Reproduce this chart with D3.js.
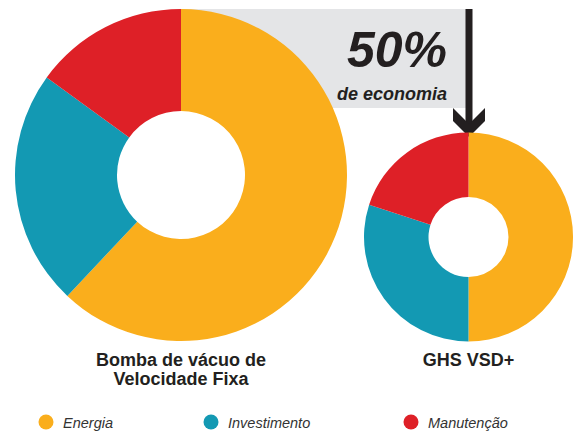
<!DOCTYPE html>
<html>
<head>
<meta charset="utf-8">
<script src="https://cdn.jsdelivr.net/npm/d3@7"></script>
<style>
body { margin: 0; background: #fff; }
text { font-family: Arial, "Liberation Sans", sans-serif; }
</style>
</head>
<body>
<script>
var w = 581;
var h = 432;

var categories = ["Energia", "Investimento", "Manutenção"];
var fixedValues = [62, 23, 15];   // Bomba de vácuo de Velocidade Fixa
var vsdValues = [50, 30, 20];     // GHS VSD+
var chartTitles = [["Bomba de vácuo de", "Velocidade Fixa"], ["GHS VSD+"]];
var savingLabel = ["50%", "de economia"];

var colors = d3.scaleOrdinal()
    .domain(categories)
    .range(["#faae1c", "#1399b3", "#de2027"]);

var svg = d3.select("body").append("svg").attr("width", w).attr("height", h);

// grey band + arrow behind the donuts
svg.append("rect")
    .attr("x", 181).attr("y", 9)
    .attr("width", 285).attr("height", 99)
    .attr("fill", "#e4e5e7");

svg.append("rect")
    .attr("x", 465.5).attr("y", 9)
    .attr("width", 7).attr("height", 118)
    .attr("fill", "#231f20");

svg.append("path")
    .attr("d", "M453,108 L469,124 L485,108 L485,121 L469,137 L453,121 Z")
    .attr("fill", "#231f20");

svg.append("text")
    .attr("x", 447).attr("y", 67)
    .attr("text-anchor", "end")
    .attr("font-size", "50px")
    .attr("font-weight", "bold")
    .attr("font-style", "italic")
    .attr("fill", "#231f20")
    .text(savingLabel[0]);

svg.append("text")
    .attr("x", 447).attr("y", 100)
    .attr("text-anchor", "end")
    .attr("font-size", "18px")
    .attr("font-weight", "bold")
    .attr("font-style", "italic")
    .attr("fill", "#231f20")
    .text(savingLabel[1]);

var pie = d3.pie().sort(null);

var donuts = [
    { values: fixedValues, cx: 181, cy: 175, outer: 166, inner: 64, title: chartTitles[0] },
    { values: vsdValues, cx: 468.5, cy: 237, outer: 104.5, inner: 40, title: chartTitles[1] }
];

donuts.forEach(function (d) {
    var arc = d3.arc().innerRadius(d.inner).outerRadius(d.outer);
    var g = svg.append("g").attr("transform", "translate(" + d.cx + "," + d.cy + ")");
    g.selectAll("path")
        .data(pie(d.values))
        .enter()
        .append("path")
        .attr("d", arc)
        .attr("fill", function (s, i) { return colors(categories[i]); });

    svg.append("text")
        .attr("x", d.cx).attr("y", 366)
        .attr("text-anchor", "middle")
        .attr("font-size", "18px")
        .attr("font-weight", "bold")
        .attr("fill", "#231f20")
        .selectAll("tspan")
        .data(d.title)
        .enter()
        .append("tspan")
        .attr("x", d.cx)
        .attr("dy", function (t, i) { return i === 0 ? 0 : 19; })
        .text(function (t) { return t; });
});

// legend
var legendX = [46, 211, 411];
var legend = svg.selectAll(".legend")
    .data(categories)
    .enter()
    .append("g")
    .attr("class", "legend")
    .attr("transform", function (d, i) { return "translate(" + legendX[i] + ",422)"; });

legend.append("circle")
    .attr("r", 7.5)
    .attr("fill", function (d) { return colors(d); });

legend.append("text")
    .attr("x", 17).attr("y", 6)
    .attr("font-size", "14.5px")
    .attr("font-style", "italic")
    .attr("fill", "#333")
    .text(function (d) { return d; });
</script>
</body>
</html>
